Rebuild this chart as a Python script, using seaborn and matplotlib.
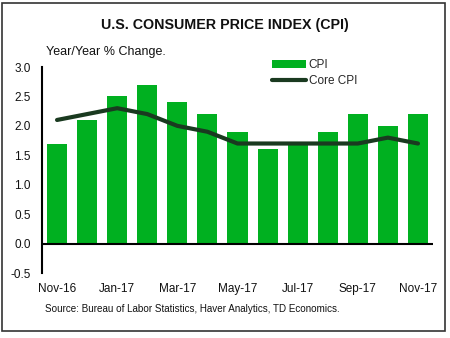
import numpy as np
import pandas as pd
import matplotlib
matplotlib.use("Agg")
import matplotlib.pyplot as plt
import seaborn as sns
from matplotlib.patches import Rectangle, Patch
from matplotlib.lines import Line2D

months = ["Nov-16", "Dec-16", "Jan-17", "Feb-17", "Mar-17", "Apr-17", "May-17",
          "Jun-17", "Jul-17", "Aug-17", "Sep-17", "Oct-17", "Nov-17"]
cpi = [1.7, 2.1, 2.5, 2.7, 2.4, 2.2, 1.9, 1.6, 1.7, 1.9, 2.2, 2.0, 2.2]
core_cpi = [2.1, 2.2, 2.3, 2.2, 2.0, 1.9, 1.7, 1.7, 1.7, 1.7, 1.7, 1.8, 1.7]
yticks = [-0.5, 0.0, 0.5, 1.0, 1.5, 2.0, 2.5, 3.0]

sns.set_theme(style="white")
plt.rcParams['font.family'] = ['Liberation Sans', 'DejaVu Sans']

bar_color = "#00B020"
line_color = "#1A3A20"

fig = plt.figure(figsize=(4.5, 3.38), dpi=100)
ax = fig.add_axes([42/450, 65/338, (433-42)/450, (271-65)/338])

df = pd.DataFrame({"month": months, "cpi": cpi, "core": core_cpi})
sns.barplot(data=df, x="month", y="cpi", color=bar_color, saturation=1,
            width=0.667, edgecolor="none", ax=ax)
sns.lineplot(x=np.arange(len(months)), y=core_cpi, color=line_color,
             linewidth=3.0, ax=ax)

ax.set_xlim(-0.5, 12.5)
ax.set_ylim(-0.5, 3.0)
ax.set_yticks(yticks)
ax.set_yticklabels([f"{v:.1f}" for v in yticks], fontsize=8.5, color="#111111")
ax.set_xticks(range(0, len(months), 2))
ax.set_xticklabels(months[::2], fontsize=8.5, color="#111111")
ax.tick_params(axis="both", length=0)
ax.tick_params(axis="y", pad=8)
ax.tick_params(axis="x", pad=7)
ax.set_xlabel("")
ax.set_ylabel("")
for s in ["top", "right", "bottom"]:
    ax.spines[s].set_visible(False)
ax.spines["left"].set_color("black")
ax.spines["left"].set_linewidth(1.5)
ax.axhline(0, color="black", linewidth=1.5, zorder=3)
ax.grid(False)

handles = [Patch(facecolor=bar_color, edgecolor="none", label="CPI"),
           Line2D([0], [0], color=line_color, linewidth=3.0, label="Core CPI")]
fig.legend(handles=handles, loc="upper left", bbox_to_anchor=(272/450, 1 - 59/338),
           frameon=False, fontsize=8.5, handlelength=2.9, handleheight=0.6,
           handletextpad=0.2, labelspacing=0.3, borderaxespad=0, borderpad=0)

fig.text(0.5, 1 - 25/338, "U.S. CONSUMER PRICE INDEX (CPI)", ha="center", va="center",
         fontsize=10.3, fontweight="bold", color="#111111")
fig.text(46/450, 1 - 52/338, "Year/Year % Change.", ha="left", va="center",
         fontsize=9, color="#111111")
fig.text(45/450, 1 - 309/338,
         "Source: Bureau of Labor Statistics, Haver Analytics, TD Economics.",
         ha="left", va="center", fontsize=7.1, color="#111111")

fig.patches.append(Rectangle((2/450, 1 - 331/338), 443/450, 328/338,
                             transform=fig.transFigure, fill=False,
                             edgecolor="#333333", linewidth=1.2))

fig.savefig("out.png", dpi=100)
